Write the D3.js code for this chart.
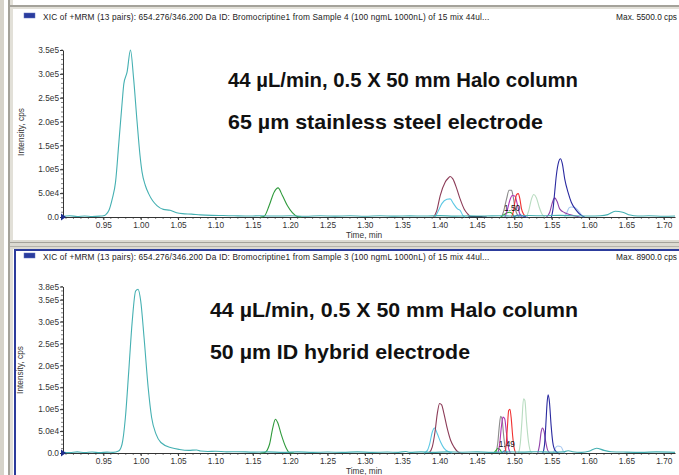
<!DOCTYPE html>
<html>
<head>
<meta charset="utf-8">
<script src="https://cdn.jsdelivr.net/npm/d3@7"></script>
<style>
  body { margin: 0; background: #fff; }
  svg { display: block; font-family: Arial, "Liberation Sans", sans-serif; }
</style>
</head>
<body>
<svg id="chart" width="679" height="475"></svg>
<script>
// ---------- data ----------
var xTicks = [0.95, 1.00, 1.05, 1.10, 1.15, 1.20, 1.25, 1.30, 1.35, 1.40, 1.45, 1.50, 1.55, 1.60, 1.65, 1.70];
var xTickLabels = ["0.95", "1.00", "1.05", "1.10", "1.15", "1.20", "1.25", "1.30", "1.35", "1.40", "1.45", "1.50", "1.55", "1.60", "1.65", "1.70"];
var yTicksTop = [0, 5e4, 1e5, 1.5e5, 2e5, 2.5e5, 3e5, 3.5e5];
var yTickLabelsTop = ["0.0", "5.0e4", "1.0e5", "1.5e5", "2.0e5", "2.5e5", "3.0e5", "3.5e5"];
var yTicksBottom = [0, 5e4, 1e5, 1.5e5, 2e5, 2.5e5, 3e5, 3.5e5, 3.8e5];
var yTickLabelsBottom = ["0.0", "5.0e4", "1.0e5", "1.5e5", "2.0e5", "2.5e5", "3.0e5", "3.5e5", "3.8e5"];

var titleTop = "XIC of +MRM (13 pairs): 654.276/346.200 Da ID: Bromocriptine1 from Sample 4 (100 ngmL 1000nL) of 15 mix 44ul...";
var titleBottom = "XIC of +MRM (13 pairs): 654.276/346.200 Da ID: Bromocriptine1 from Sample 3 (100 ngmL 1000nL) of 15 mix 44ul...";
var maxTop = "Max. 5500.0 cps";
var maxBottom = "Max. 8900.0 cps";
var noteTop = ["44 µL/min, 0.5 X 50 mm Halo column", "65 µm stainless steel electrode"];
var noteBottom = ["44 µL/min, 0.5 X 50 mm Halo column", "50 µm ID hybrid electrode"];
var peakLabelTop = [1.497, "1.50"];
var peakLabelBottom = [1.490, "1.49"];

// top chromatogram (65 um stainless steel electrode), [time min, intensity cps]
var topTeal = [[0.896,1500],[0.905,2500],[0.915,1200],[0.925,2200],[0.935,1000],[0.945,1800],[0.950,2500],
  [0.953,4500],[0.9575,1.4e4],[0.9619,3.8e4],[0.9663,7.3e4],[0.9708,1.57e5],[0.9752,2.41e5],[0.9774,2.79e5],
  [0.9818,3.04e5],[0.9863,3.50e5],[0.9905,2.9e5],[0.9951,2.0e5],[0.999,1.3e5],[1.0018,9.4e4],[1.0062,6.6e4],
  [1.0106,4.9e4],[1.0160,3.4e4],[1.0217,2.4e4],[1.0303,1.6e4],[1.0394,1.4e4],[1.048,9000],[1.0559,7000],
  [1.068,6000],[1.080,4500],[1.095,3500],[1.110,3000],[1.125,2500],[1.14,2000],[1.16,2500],[1.18,2000],
  [1.20,2500],[1.22,1500],[1.24,2500],[1.26,1800],[1.28,2500],[1.30,1500],[1.32,2600],[1.34,1800],[1.36,2400],
  [1.38,2000],[1.40,2800],[1.42,1800],[1.44,2400],[1.46,2000],[1.48,2600],[1.50,2000],[1.52,3000],[1.54,2500],
  [1.56,3500],[1.58,2500],[1.60,2000],[1.615,2500],[1.625,5000],[1.635,1.2e4],[1.645,1.0e4],[1.655,4000],
  [1.665,2000],[1.68,2500],[1.70,1500],[1.715,2000]];
var topGreen = [[1.160,0],[1.1652,1500],[1.1719,2.4e4],[1.1785,5.2e4],[1.1838,6.1e4],[1.1896,4.5e4],
  [1.1962,2.4e4],[1.2029,9000],[1.2095,1000],[1.215,0]];
var topBrown = [[1.392,0],[1.3963,1.4e4],[1.4008,4.5e4],[1.4074,7.3e4],[1.4119,8.2e4],[1.4141,8.5e4],
  [1.4177,8.0e4],[1.423,5.9e4],[1.4274,3.8e4],[1.4328,1.7e4],[1.4372,7000],[1.4416,0]];
var topLightBlue = [[1.3941,0],[1.3986,1.4e4],[1.403,2.8e4],[1.4097,3.7e4],[1.4141,3.8e4],[1.4186,2.8e4],
  [1.4239,1.7e4],[1.4274,1.4e4],[1.431,3500],[1.434,0]];
var topDark = [[1.438,0],[1.443,800],[1.453,1200],[1.458,500],[1.463,0]];
var topGray = [[1.483,0],[1.486,1.4e4],[1.4896,3.8e4],[1.493,5.6e4],[1.4963,5.6e4],[1.4985,4.2e4],
  [1.5007,2.1e4],[1.5038,5000],[1.507,0]];
var topMagenta = [[1.4874,0],[1.4905,1.4e4],[1.494,3.5e4],[1.4972,4.5e4],[1.5007,4.4e4],[1.5038,2.8e4],
  [1.5065,1.0e4],[1.5096,0]];
var topRed = [[1.4963,0],[1.4985,1.0e4],[1.5007,3.1e4],[1.503,4.7e4],[1.5052,4.9e4],[1.5074,3.8e4],
  [1.5096,1.7e4],[1.5127,5000],[1.5163,0]];
var topSmallGreen = [[1.4816,0],[1.4861,5000],[1.4896,8400],[1.4932,9800],[1.4963,8400],[1.4994,2000],[1.502,0]];
var topSmallBlue = [[1.4985,0],[1.503,3000],[1.508,4000],[1.513,1000],[1.518,0]];
var topPaleGreen = [[1.5163,0],[1.5194,1.4e4],[1.523,3.8e4],[1.526,4.7e4],[1.5296,4.0e4],[1.5332,2.1e4],
  [1.5367,7000],[1.5407,0]];
var topPurple = [[1.543,0],[1.5474,1.0e4],[1.551,3.1e4],[1.554,4.0e4],[1.5571,3.3e4],[1.5607,1.7e4],
  [1.5674,9000],[1.574,5000],[1.5829,1400],[1.5874,0]];
var topNavy = [[1.5496,0],[1.5518,1.7e4],[1.554,5.2e4],[1.5562,8.7e4],[1.5594,1.16e5],[1.5616,1.22e5],
  [1.5642,1.12e5],[1.5674,8.0e4],[1.5718,5.2e4],[1.5762,3.1e4],[1.5829,1.4e4],[1.5896,3500],[1.594,0]];
var topPaleBlue = [[1.5674,0],[1.5705,1.0e4],[1.5732,1.9e4],[1.5762,2.1e4],[1.5807,2.0e4],[1.5852,1.4e4],
  [1.5896,5000],[1.5927,0]];

// bottom chromatogram (50 um ID hybrid electrode)
var botTeal = [[0.896,1500],[0.905,800],[0.915,2500],[0.925,1000],[0.935,2200],[0.945,800],[0.955,2000],
  [0.963,1500],[0.9704,4500],[0.975,2.0e4],[0.9795,8.1e4],[0.984,1.87e5],[0.9886,3.0e5],[0.9932,3.70e5],
  [0.9964,3.74e5],[1.00,3.47e5],[1.0045,2.63e5],[1.010,1.49e5],[1.0146,8.1e4],[1.0205,4.3e4],[1.027,2.4e4],
  [1.041,1.2e4],[1.052,8000],[1.064,6000],[1.075,7000],[1.08,4500],[1.09,3500],[1.10,4000],[1.115,2500],
  [1.13,3000],[1.15,2000],[1.17,2500],[1.19,1500],[1.21,2500],[1.23,1500],[1.25,2200],[1.27,1500],[1.29,2500],
  [1.31,1500],[1.33,2200],[1.345,1500],[1.355,3500],[1.36,1500],[1.375,2500],[1.39,1500],[1.41,2500],
  [1.43,1800],[1.45,2500],[1.47,1500],[1.49,2500],[1.51,2000],[1.53,3000],[1.55,2000],[1.565,2500],
  [1.572,5000],[1.578,3000],[1.59,1500],[1.60,4000],[1.61,1.1e4],[1.62,6000],[1.63,3000],[1.65,2000],
  [1.67,1500],[1.69,2500],[1.715,1500]];
var botGreen = [[1.160,0],[1.1658,1000],[1.1724,2.0e4],[1.1768,5.8e4],[1.1803,7.7e4],[1.1834,6.9e4],
  [1.1879,4.3e4],[1.1945,1.2e4],[1.1989,1000],[1.205,0]];
var botBrown = [[1.3858,0],[1.3902,1.4e4],[1.3938,4.8e4],[1.3969,9.0e4],[1.40,1.13e5],[1.4027,1.1e5],
  [1.4058,9.0e4],[1.4102,5.6e4],[1.4147,2.9e4],[1.4191,1.4e4],[1.4235,4000],[1.428,0]];
var botLightBlue = [[1.3791,0],[1.3836,6000],[1.3867,2.1e4],[1.3902,4.8e4],[1.3933,5.7e4],[1.3969,4.4e4],
  [1.4013,2.5e4],[1.4058,1.1e4],[1.4124,2300],[1.4169,0]];
var botGray = [[1.4755,0],[1.4777,2.1e4],[1.48,6.3e4],[1.4817,8.4e4],[1.4835,7.8e4],[1.4857,4.0e4],
  [1.4879,1.0e4],[1.4906,0]];
var botMagenta = [[1.4781,0],[1.4804,2.1e4],[1.4826,5.9e4],[1.4848,8.2e4],[1.4871,7.8e4],[1.4893,4.8e4],
  [1.4915,1.75e4],[1.4946,0]];
var botRed = [[1.4871,0],[1.4888,1.4e4],[1.4906,5.6e4],[1.4924,9.7e4],[1.4941,1.0e5],[1.4959,7.8e4],
  [1.4977,4.0e4],[1.4999,1.0e4],[1.5021,0]];
var botSmallGreen = [[1.4724,0],[1.4755,6000],[1.4781,1.1e4],[1.4804,8000],[1.4835,0]];
var botSmallBlue = [[1.4835,0],[1.4871,5000],[1.4902,0]];
var botPaleGreen = [[1.5057,0],[1.5079,2.1e4],[1.5101,7.1e4],[1.5123,1.24e5],[1.5141,1.2e5],[1.5163,7.1e4],
  [1.519,2.5e4],[1.5221,2300],[1.5243,0]];
var botPurple = [[1.5314,0],[1.5336,1.75e4],[1.5359,4.8e4],[1.5376,5.7e4],[1.5399,4.8e4],[1.5421,2.5e4],
  [1.5447,6000],[1.5479,0]];
var botNavy = [[1.5381,0],[1.5403,1.75e4],[1.5421,6.3e4],[1.5439,1.16e5],[1.5452,1.33e5],[1.547,1.16e5],
  [1.5492,6.3e4],[1.5514,2.5e4],[1.5545,6000],[1.559,0]];
var botPaleBlue = [[1.5523,0],[1.5545,1.0e4],[1.558,1.6e4],[1.5625,1.4e4],[1.5656,4000],[1.5678,0]];

// ---------- drawing ----------
var svg = d3.select('#chart');
var FONT = 8.3;

var x = d3.scaleLinear().domain([0.896, 1.715]).range([63, 675]);
var X0 = x(0.896);

var colors = {
  teal: '#45b0b2', green: '#2f9a3c', brown: '#8c3c58', lightBlue: '#5cc8e4', dark: '#202040',
  gray: '#8a8a8a', magenta: '#b034b4', red: '#f03030', smallGreen: '#2cb02c', smallBlue: '#3050d0',
  paleGreen: '#b8dcc0', purple: '#9040a8', navy: '#2a2aa0', paleBlue: '#a8c8f0'
};

var topSeries = [
  [topLightBlue, 'lightBlue'], [topBrown, 'brown'], [topGreen, 'green'], [topDark, 'dark'],
  [topGray, 'gray'], [topSmallGreen, 'smallGreen'], [topMagenta, 'magenta'], [topRed, 'red'],
  [topSmallBlue, 'smallBlue'], [topPaleGreen, 'paleGreen'], [topPaleBlue, 'paleBlue'],
  [topPurple, 'purple'], [topNavy, 'navy'], [topTeal, 'teal']
];
var botSeries = [
  [botLightBlue, 'lightBlue'], [botBrown, 'brown'], [botGreen, 'green'], [botGray, 'gray'],
  [botSmallGreen, 'smallGreen'], [botMagenta, 'magenta'], [botSmallBlue, 'smallBlue'], [botRed, 'red'],
  [botPaleGreen, 'paleGreen'], [botPaleBlue, 'paleBlue'], [botPurple, 'purple'], [botNavy, 'navy'],
  [botTeal, 'teal']
];

// window chrome
svg.append('rect').attr('width', 679).attr('height', 475).attr('fill', '#fff');
svg.append('rect').attr('x', 0).attr('y', 0).attr('width', 4).attr('height', 475).attr('fill', '#d6d3ca');
svg.append('rect').attr('x', 8).attr('y', 0).attr('width', 2).attr('height', 475).attr('fill', '#a4a29a');
svg.append('rect').attr('x', 10).attr('y', 0).attr('width', 3).attr('height', 475).attr('fill', '#e2e0d8');
svg.append('rect').attr('x', 10).attr('y', 5).attr('width', 669).attr('height', 2).attr('fill', '#a4a29a');
svg.append('rect').attr('x', 10).attr('y', 7).attr('width', 669).attr('height', 2).attr('fill', '#e2e0d8');
// separator between the two panes
svg.append('rect').attr('x', 10).attr('y', 240).attr('width', 669).attr('height', 9).attr('fill', '#dcdad2');
svg.append('rect').attr('x', 10).attr('y', 242).attr('width', 669).attr('height', 1).attr('fill', '#a4a29a');
svg.append('rect').attr('x', 10).attr('y', 246).attr('width', 669).attr('height', 1).attr('fill', '#b4b2aa');
// selected pane outline (blue)
svg.append('rect').attr('x', 14).attr('y', 249).attr('width', 665).attr('height', 2).attr('fill', '#2c3c9c');
svg.append('rect').attr('x', 14).attr('y', 249).attr('width', 2).attr('height', 226).attr('fill', '#2c3c9c');

function drawPanel(p) {
  var g = svg.append('g');
  var y = d3.scaleLinear().domain(p.yDomain).range(p.yRange);

  // header
  g.append('rect').attr('x', 24).attr('y', p.headY - 7).attr('width', 11).attr('height', 5)
    .attr('fill', '#2a3c9e').attr('stroke', '#6070c0').attr('stroke-width', 0.5);
  g.append('text').attr('x', 43).attr('y', p.headY).attr('font-size', FONT).attr('fill', '#222')
    .attr('letter-spacing', 0.15).text(p.title);
  g.append('text').attr('x', 677).attr('y', p.headY).attr('font-size', FONT).attr('fill', '#222')
    .attr('text-anchor', 'end').text(p.max);

  // minor ticks
  var axisY = y(0);
  g.selectAll('.xminor').data(d3.range(0.90, 1.7101, 0.01)).enter().append('line')
    .attr('x1', function (d) { return x(d); }).attr('x2', function (d) { return x(d); })
    .attr('y1', axisY).attr('y2', axisY + 2).attr('stroke', '#333').attr('stroke-width', 0.6);
  g.selectAll('.yminor').data(d3.range(0, p.yDomain[1] + 1, 1e4)).enter().append('line')
    .attr('x1', X0).attr('x2', X0 - 2)
    .attr('y1', function (d) { return y(d); }).attr('y2', function (d) { return y(d); })
    .attr('stroke', '#333').attr('stroke-width', 0.6);

  var xAxis = d3.axisBottom(x).tickValues(xTicks)
    .tickFormat(function (d, i) { return xTickLabels[i]; })
    .tickSize(3).tickPadding(2).tickSizeOuter(0);
  var gx = g.append('g').attr('transform', 'translate(0,' + axisY + ')').call(xAxis);

  var yAxis = d3.axisLeft(y).tickValues(p.yTicks)
    .tickFormat(function (d, i) { return p.yLabels[i]; })
    .tickSize(3).tickPadding(1).tickSizeOuter(0);
  var gy = g.append('g').attr('transform', 'translate(' + X0 + ',0)').call(yAxis);

  [gx, gy].forEach(function (a) {
    a.selectAll('text').attr('font-size', FONT).attr('fill', '#333').attr('font-family', null);
    a.selectAll('line').attr('stroke', '#333');
    a.select('.domain').attr('stroke', '#333');
  });

  // axis titles
  g.append('text').attr('transform', 'translate(' + p.yTitleX + ',' + p.yTitleY + ') rotate(-90)')
    .attr('text-anchor', 'middle').attr('font-size', FONT).attr('fill', '#333').text('Intensity, cps');
  g.append('text').attr('x', 346).attr('y', p.xTitleY).attr('font-size', FONT).attr('fill', '#333')
    .text('Time, min');

  // traces
  var line = d3.line()
    .x(function (d) { return x(d[0]); })
    .y(function (d) { return y(d[1]); })
    .curve(d3.curveMonotoneX);

  p.series.forEach(function (s) {
    g.append('path')
      .attr('d', line(s[0]))
      .attr('fill', 'none')
      .attr('stroke', colors[s[1]])
      .attr('stroke-width', 1.1)
      .attr('stroke-linejoin', 'round');
  });

  // origin marker
  g.append('path')
    .attr('d', 'M' + (X0 - 2) + ',' + (axisY - 3.5) + 'L' + (X0 + 3) + ',' + axisY + 'L' + (X0 - 2) + ',' + (axisY + 3.5) + 'Z')
    .attr('fill', '#1c2c8c');

  // peak label
  g.append('text').attr('x', x(p.peakLabel[0])).attr('y', axisY - 6).attr('text-anchor', 'middle')
    .attr('font-size', FONT).attr('fill', '#111').text(p.peakLabel[1]);

  // big annotation
  p.note.forEach(function (t, i) {
    g.append('text').attr('x', p.noteX).attr('y', p.noteY + i * 42)
      .attr('font-size', p.noteSize).attr('font-weight', 'bold').attr('fill', '#111')
      .attr('textLength', p.noteLen[i]).attr('lengthAdjust', 'spacingAndGlyphs')
      .text(t);
  });
}

drawPanel({
  yDomain: [0, 3.5e5], yRange: [217, 50], yTicks: yTicksTop, yLabels: yTickLabelsTop,
  headY: 20, title: titleTop, max: maxTop, yTitleX: 24, yTitleY: 132, xTitleY: 238,
  series: topSeries, peakLabel: peakLabelTop, note: noteTop, noteX: 228, noteY: 87,
  noteSize: 20.5, noteLen: [350, 315]
});
drawPanel({
  yDomain: [0, 3.8e5], yRange: [453, 453 - 3.8e5 / 5e4 * 21.9], yTicks: yTicksBottom, yLabels: yTickLabelsBottom,
  headY: 260, title: titleBottom, max: maxBottom, yTitleX: 23, yTitleY: 370, xTitleY: 474,
  series: botSeries, peakLabel: peakLabelBottom, note: noteBottom, noteX: 210, noteY: 317,
  noteSize: 21, noteLen: [368, 260]
});
</script>
</body>
</html>
